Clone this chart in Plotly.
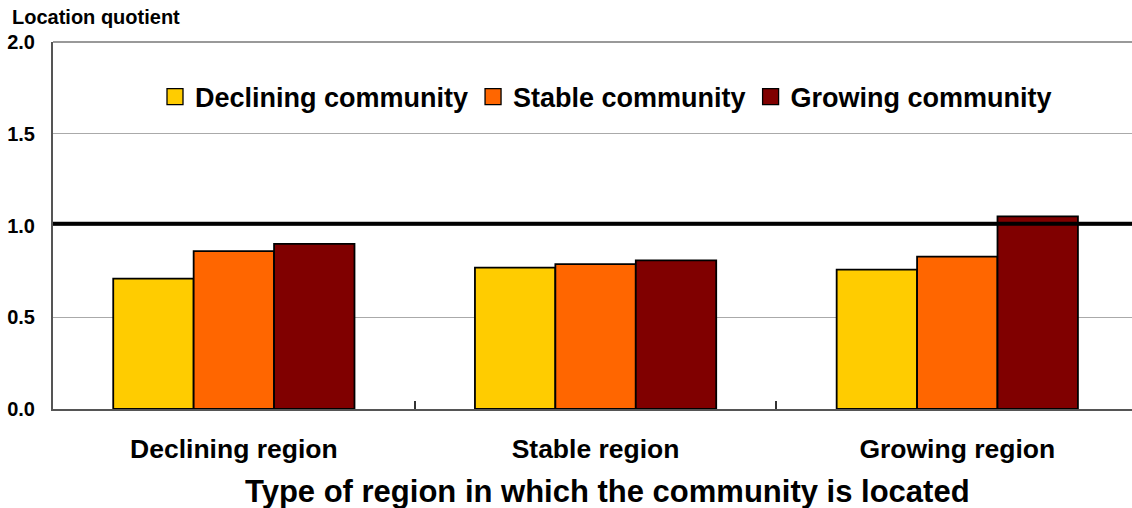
import plotly.graph_objects as go

# Location quotients by region type and community type
regions = ["Declining region", "Stable region", "Growing region"]
series_names = ["Declining community", "Stable community", "Growing community"]
declining_vals = [0.71, 0.77, 0.76]
stable_vals = [0.86, 0.79, 0.83]
growing_vals = [0.90, 0.81, 1.05]
colors = ["#FFCC00", "#FF6600", "#800000"]
y_ticks = [0.0, 0.5, 1.0, 1.5, 2.0]
y_tick_text = ["0.0", "0.5", "1.0", "1.5", "2.0"]
reference_level = 1.01

FONT = "Liberation Sans, Arial, sans-serif"

fig = go.Figure()
for name, vals, col in zip(series_names, [declining_vals, stable_vals, growing_vals], colors):
    fig.add_trace(go.Bar(
        x=regions, y=vals, name=name, showlegend=False,
        marker=dict(color=col, line=dict(color="#000000", width=1.8)),
    ))
    # legend swatch
    fig.add_trace(go.Scatter(
        x=[None], y=[None], mode="markers", name=name,
        marker=dict(symbol="square", size=17, color=col,
                    line=dict(color="#000000", width=1.3)),
    ))

# reference line at a quotient of 1
fig.add_shape(type="line", xref="paper", yref="y", x0=0, x1=1,
              y0=reference_level, y1=reference_level,
              line=dict(color="#000000", width=4), layer="above")

fig.update_layout(
    width=1132, height=508,
    margin=dict(l=53, r=0, t=42, b=99),
    paper_bgcolor="white", plot_bgcolor="white",
    barmode="group", bargap=0.333, bargroupgap=0,
    font=dict(family=FONT, color="#000000", size=15, weight="bold"),
    showlegend=True,
    legend=dict(orientation="h", x=(606 - 53) / 1079, xanchor="center", y=0.85, yanchor="middle",
                font=dict(family=FONT, size=27, weight="bold"),
                bgcolor="rgba(0,0,0,0)", itemwidth=30, tracegroupgap=0),
    xaxis=dict(
        range=[-0.5, 2.483], tickson="boundaries", ticks="inside", ticklen=8,
        tickcolor="#333333", tickwidth=1.5,
        showline=True, linecolor="#555555", linewidth=2,
        tickfont=dict(family=FONT, size=26.5, weight="bold"),
        ticklabelstandoff=15, showgrid=False, zeroline=False,
    ),
    yaxis=dict(
        range=[0, 2.0], tickvals=y_ticks, ticktext=y_tick_text,
        showline=True, linecolor="#555555", linewidth=2, mirror=False,
        gridcolor="#AAAAAA", gridwidth=1, zeroline=False,
        tickfont=dict(family=FONT, size=20, weight="bold"),
        ticks="", ticklabelstandoff=12,
    ),
    annotations=[
        dict(text="Location quotient", xref="paper", yref="paper",
             x=-43/1079, y=(409-17)/367, xanchor="left", yanchor="middle",
             showarrow=False, font=dict(family=FONT, size=20, weight="bold")),
        dict(text="Type of region in which the community is located", xref="paper", yref="paper",
             x=(607-53)/1079, y=-(491-409)/367, xanchor="center", yanchor="middle",
             showarrow=False, font=dict(family=FONT, size=31, weight="bold")),
    ],
)

# frame line at the top of the plot area
fig.add_shape(type="line", xref="paper", yref="paper", x0=0, x1=1, y0=1, y1=1,
              line=dict(color="#777777", width=1.5))

fig.write_html("out.html")
